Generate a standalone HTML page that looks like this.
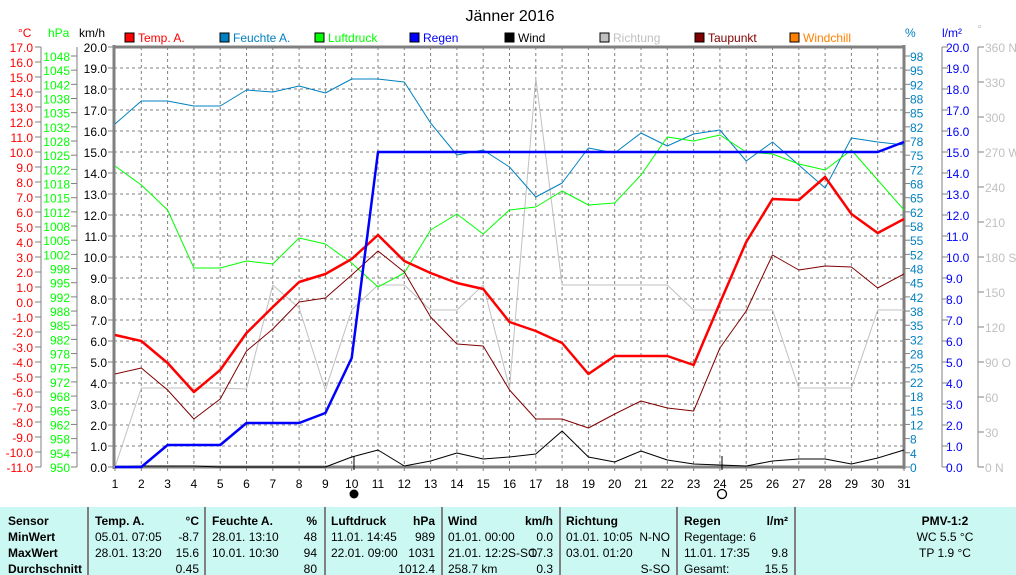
<!DOCTYPE html>
<html><head><meta charset="utf-8">
<style>
html,body{margin:0;padding:0;background:#fff;width:1016px;height:575px;overflow:hidden;}
svg{display:block;font-family:"Liberation Sans",sans-serif;font-size:12px;}
</style></head><body>
<svg id="s" width="1016" height="575" xmlns="http://www.w3.org/2000/svg"></svg>
<script>
const s=document.getElementById('s');let h='';
const X=d=>115+(d-1)*26.3;
function t(x,y,txt,c,a,extra){h+=`<text x="${x}" y="${y}" fill="${c}" text-anchor="${a||'start'}" ${extra||''}>${txt}</text>`;}
function l(x1,y1,x2,y2,c,w,da){h+=`<line x1="${x1}" y1="${y1}" x2="${x2}" y2="${y2}" stroke="${c}" stroke-width="${w||1}" ${da?`stroke-dasharray="${da}"`:''}/>`;}
t(510,21,'Jänner 2016','#000','middle','font-size="16"');
const lg=[['Temp. A.','#ff0000'],['Feuchte A.','#0080c0'],['Luftdruck','#00ff00'],['Regen','#0000ff'],['Wind','#000'],['Richtung','#c0c0c0'],['Taupunkt','#800000'],['Windchill','#ff8000']];
lg.forEach((g,i)=>{const x=125+i*95;h+=`<rect x="${x}" y="33" width="9" height="9" fill="${g[1]}" stroke="#000"/>`;t(x+13,42,g[0],g[1]);});
t(18,37,'°C','#ff0000');t(48,37,'hPa','#00ff00');t(79,37,'km/h','#000');
t(905,37,'%','#0080c0');t(942,37,'l/m²','#0000ff');t(977,33,'°','#c0c0c0');
for(let d=1;d<=31;d++){const x=X(d);if(d>1&&d<31)l(x,47,x,467,'#808080',1,'3,3');l(x,467,x,471,'#808080');t(x,488,d,'#000','middle');}
for(let v=1;v<20;v++){const y=467-v*21;l(114,y,904,y,'#808080',1,'3,3');}
l(114,47,904,47,'#808080',3);l(114,45,114,469,'#808080',3);l(114,467,904,467,'#808080',3);l(904,45,904,469,'#808080',3);
l(41,47,41,467,'#808080');l(77,47,77,467,'#808080');
for(let i=0;i<=28;i++){const y=47+i*15;l(35,y,41,y,'#808080');t(33,y+5,(17-i).toFixed(1),'#ff0000','end');}
const hp=[1048,1045,1042,1038,1035,1032,1028,1025,1022,1018,1015,1012,1008,1005,1002,998,995,992,988,985,982,978,975,972,968,965,962,958,954,950];
hp.forEach((v,i)=>{const y=i==29?467:56+i*14.17;l(71,y,77,y,'#808080');t(70,y+5,v,'#00ff00','end');});
for(let v=0;v<=20;v++){const y=467-v*21;l(108,y,114,y,'#808080');t(107,y+5,v.toFixed(1),'#000','end');}
const pc=[98,95,92,88,85,82,78,75,72,68,65,62,58,55,52,48,45,42,38,35,32,28,25,22,18,15,12,8,4,0];
pc.forEach((v,i)=>{const y=i==29?467:56+i*14.17;l(904,y,910,y,'#808080');t(910,y+5,v,'#0080c0');});
l(942,47,942,467,'#808080');l(978,47,978,467,'#808080');
for(let v=0;v<=20;v++){const y=467-v*21;l(942,y,948,y,'#808080');t(946,y+5,v.toFixed(1),'#0000ff');}
const dg=['360 N','330','300','270 W','240','210','180 S','150','120','90 O','60','30','0 N'];
dg.forEach((v,i)=>{const y=47+i*35;l(978,y,984,y,'#808080');t(985,y+5,v,'#c0c0c0');});
function pl(a,c,w){h+=`<polyline fill="none" stroke="${c}" stroke-width="${w}" stroke-linejoin="round" points="${a.map((y,i)=>X(i+1).toFixed(1)+','+y).join(' ')}"/>`;}
pl([467,388,388,388,388,389,285,308,390,310,285,285,310,310,285,388,78,285,285,285,285,285,310,310,310,310,388,388,388,310,310],'#c0c0c0',1);
pl([124,101,101,106,106,90,92,86,93,79,79,82,123,155,150,167,197,183,148,153,133,146,134,130,161,142,165,188,138,142,145],'#0080c0',1);
pl([166,185,210,268,268,261,264,238,244,263,287,273,230,214,234,210,207,191,205,203,175,137,141,135,152,154,164,170,150,180,210],'#00ff00',1);
pl([374,368,390,419,399,351,329,302,298,275,251,272,317,344,346,390,419,419,428,414,401,408,411,348,311,255,270,266,267,288,274],'#800000',1);
pl([467,466,466,466,467,467,467,467,467,457,450,466,461,453,459,457,454,431,457,462,451,460,464,465,466,461,459,459,464,458,450],'#000',1);
pl([335,341,363,392,370,333,307,282,274,259,235,261,273,283,289,322,331,343,374,356,356,356,365,303,242,199,200,177,214,233,219],'#ff0000',2.5);
pl([467,467,445,445,445,423,423,423,413,358,152,152,152,152,152,152,152,152,152,152,152,152,152,152,152,152,152,152,152,152,142],'#0000ff',2.5);
l(354,456,354,470,'#000');h+=`<circle cx="354" cy="494" r="4.5" fill="#000"/>`;
l(722,456,722,470,'#000');h+=`<circle cx="722" cy="494" r="4.5" fill="#fff" stroke="#000" stroke-width="1.3"/>`;
h+=`<rect x="0" y="507" width="1016" height="68" fill="#ccf8f4"/>`;
[88,205,325,442,560,677,795].forEach(x=>l(x,507,x,575,'#808080',2));
const ry=[525,541,557,573];
const B='font-weight="bold"';
t(8,ry[0],'Sensor','#000','start',B);t(8,ry[1],'MinWert','#000','start',B);t(8,ry[2],'MaxWert','#000','start',B);t(8,ry[3],'Durchschnitt','#000','start',B);
function col(x1,x2,hd,un,rows){t(x1,ry[0],hd,'#000','start',B);t(x2,ry[0],un,'#000','end',B);rows.forEach((r,i)=>{if(r[0])t(x1,ry[i+1],r[0],'#000');if(r[1])t(x2,ry[i+1],r[1],'#000','end');});}
col(95,199,'Temp. A.','°C',[['05.01.  07:05','-8.7'],['28.01.  13:20','15.6'],['','0.45']]);
col(212,317,'Feuchte A.','%',[['28.01.  13:10','48'],['10.01.  10:30','94'],['','80']]);
col(331,435,'Luftdruck','hPa',[['11.01.  14:45','989'],['22.01.  09:00','1031'],['','1012.4']]);
col(448,553,'Wind','km/h',[['01.01.  00:00','0.0'],['21.01.  12:2S-SO','17.3'],['258.7 km','0.3']]);
col(566,670,'Richtung','',[['01.01.  10:05','N-NO'],['03.01.  01:20','N'],['','S-SO']]);
col(684,788,'Regen','l/m²',[['Regentage: 6',''],['11.01.  17:35','9.8'],['Gesamt:','15.5']]);
t(945,ry[0],'PMV-1:2','#000','middle',B);t(945,ry[1],'WC 5.5 °C','#000','middle');t(945,ry[2],'TP 1.9 °C','#000','middle');
s.innerHTML=h;
</script>
</body></html>
